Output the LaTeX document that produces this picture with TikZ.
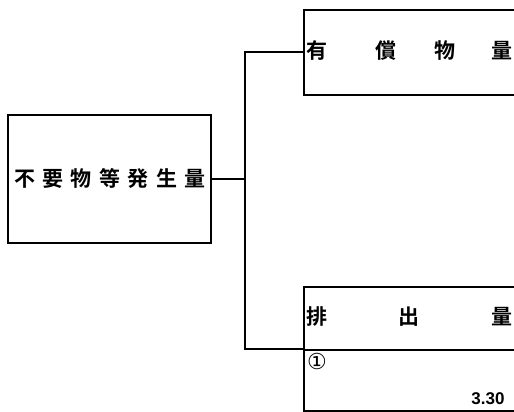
\documentclass[tikz,border=0pt]{standalone}
\usepackage{fontspec}
\newfontfamily\cjk{Noto Sans CJK JP Bold}
\newfontfamily\numfont{Liberation Sans}
\newfontfamily\symfont{DejaVu Sans}
\begin{document}
\begin{tikzpicture}[x=1pt,y=-1pt,
  box/.style={draw,line width=2pt,inner sep=0pt,anchor=north west},
  conn/.style={line width=2pt},
  lbl/.style={font=\cjk\fontsize{21}{21}\selectfont,inner sep=0pt},
  num/.style={font=\numfont\bfseries\fontsize{17}{17}\selectfont,inner sep=0pt}]
\useasboundingbox (0,0) rectangle (514,412);
\clip (0,0) rectangle (514,412);
% left box
\node[box,minimum width=203pt,minimum height=128pt] (L) at (7,114) {};
\node[lbl] (Lt) at (110,178) {不\hspace{7.5pt}要\hspace{7.5pt}物\hspace{7.5pt}等\hspace{7.5pt}発\hspace{7.5pt}生\hspace{7.5pt}量};
% top right box
\node[box,minimum width=230pt,minimum height=85pt] (T) at (303,9) {};
\node[lbl] (t1) at (317,51) {有};
\node[lbl] (t2) at (386,51) {償};
\node[lbl] (t3) at (445,51) {物};
\node[lbl] (t4) at (502,51) {量};
% bottom right box
\node[box,minimum width=230pt,minimum height=63pt] (B) at (303,286) {};
\node[box,minimum width=230pt,minimum height=61pt] (C) at (303,349) {};
\node[lbl] (b1) at (317,317) {排};
\node[lbl] (b2) at (409,317) {出};
\node[lbl] (b3) at (502,317) {量};
\node[font=\symfont\fontsize{22}{22}\selectfont,inner sep=0pt] (c1) at (317,361) {①};
\node[num] (c2) at (488,399) {3.30};
% connectors
\draw[conn] (L.east) -- ++(33,0) coordinate (J);
\draw[conn] (J) |- (T.west);
\draw[conn] (J) |- (C.north west);
\end{tikzpicture}
\end{document}
